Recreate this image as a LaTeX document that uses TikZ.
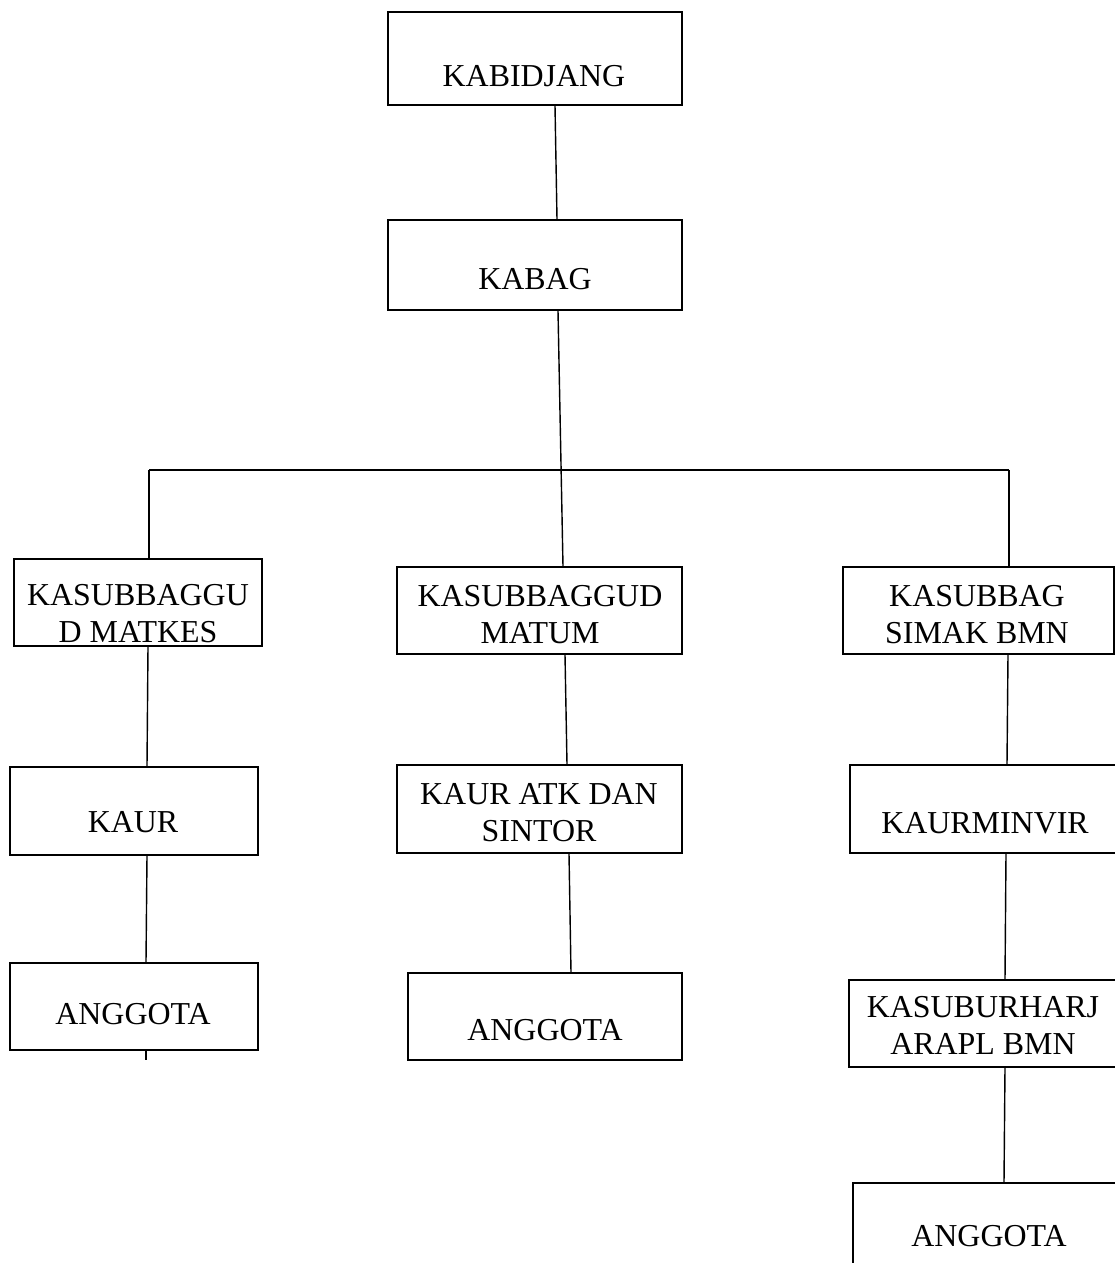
\documentclass[tikz,border=0pt]{standalone}
\usepackage{fontspec}
\setmainfont{Liberation Serif}
\newcommand{\pxl}{0.025cm}
\begin{document}
\begin{tikzpicture}[
        x=\pxl, y=-\pxl,
        every node/.style={inner sep=0pt},
        orgbox/.style={draw, line width=1pt, minimum height=87*\pxl},
        orgtext/.style={align=center, font=\fontsize{22.7}{26.3}\selectfont},
        link/.style={line width=1pt},
    ]
    \clip (0,0) rectangle (1115,1263);
    % top of the chart
    \node[orgbox, minimum width=294*\pxl, minimum height=93*\pxl] (kabidjang) at (535,58.5) {};
    \node[orgtext] (kabidjang-t) at (534,76.5) {KABIDJANG};
    \node[orgbox, minimum width=294*\pxl, minimum height=90*\pxl] (kabag) at (535,265) {};
    \node[orgtext] (kabag-t) at (535,279) {KABAG};
    % left column
    \node[orgbox, minimum width=248*\pxl] (matkes) at (138,602.5) {};
    \node[orgtext] (matkes-t) at (138,614) {KASUBBAGGU\\D MATKES};
    \node[orgbox, minimum width=248*\pxl, minimum height=88*\pxl] (kaur) at (134,811) {};
    \node[orgtext] (kaur-t) at (133,822) {KAUR};
    \node[orgbox, minimum width=248*\pxl] (anggota1) at (134,1006.5) {};
    \node[orgtext] (anggota1-t) at (133,1014) {ANGGOTA};
    % middle column
    \node[orgbox, minimum width=285*\pxl] (matum) at (539.5,610.5) {};
    \node[orgtext] (matum-t) at (540,615) {KASUBBAGGUD\\MATUM};
    \node[orgbox, minimum width=285*\pxl, minimum height=88*\pxl] (atk) at (539.5,809) {};
    \node[orgtext] (atk-t) at (539,812.5) {KAUR ATK DAN\\SINTOR};
    \node[orgbox, minimum width=274*\pxl] (anggota2) at (545,1016.5) {};
    \node[orgtext] (anggota2-t) at (545,1030) {ANGGOTA};
    % right column
    \node[orgbox, minimum width=271*\pxl] (simak) at (978.5,610.5) {};
    \node[orgtext] (simak-t) at (977,614.5) {KASUBBAG\\SIMAK BMN};
    \node[orgbox, minimum width=270*\pxl, minimum height=88*\pxl] (kaurminvir) at (985,809) {};
    \node[orgtext] (kaurminvir-t) at (985,823) {KAURMINVIR};
    \node[orgbox, minimum width=268*\pxl] (kasuburharj) at (983,1023.5) {};
    \node[orgtext] (kasuburharj-t) at (983,1025.5) {KASUBURHARJ\\ARAPL BMN};
    \node[orgbox, minimum width=272*\pxl] (anggota3) at (989,1226.5) {};
    \node[orgtext] (anggota3-t) at (989,1236.5) {ANGGOTA};
    % lines
    \coordinate (busL) at (149,470);
    \coordinate (busR) at (1009,470);
    \coordinate (stub) at (146,1060);
    \draw[link] (kabidjang.south -| 555,0) -- (kabag.north -| 557,0);
    \draw[link] (kabag.south -| 558,0) -- (matum.north -| 563,0);
    \draw[link] (busL) -- (busR);
    \draw[link] (busL) -- (matkes.north -| busL);
    \draw[link] (busR) -- (simak.north -| busR);
    \draw[link] (matkes.south -| 148,0) -- (kaur.north -| 147,0);
    \draw[link] (kaur.south -| 147,0) -- (anggota1.north -| 146,0);
    \draw[link] (anggota1.south -| stub) -- (stub);
    \draw[link] (matum.south -| 565,0) -- (atk.north -| 567,0);
    \draw[link] (atk.south -| 569,0) -- (anggota2.north -| 571,0);
    \draw[link] (simak.south -| 1008,0) -- (kaurminvir.north -| 1007,0);
    \draw[link] (kaurminvir.south -| 1006,0) -- (kasuburharj.north -| 1005,0);
    \draw[link] (kasuburharj.south -| 1005,0) -- (anggota3.north -| 1004,0);
\end{tikzpicture}
\end{document}
